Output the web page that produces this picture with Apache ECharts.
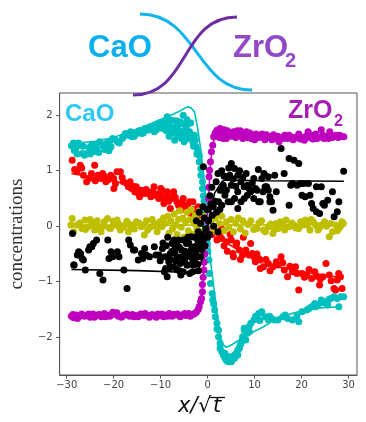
<!DOCTYPE html>
<html>
<head>
<meta charset="utf-8">
<script src="https://cdn.jsdelivr.net/npm/echarts@6/dist/echarts.min.js"></script>
<style>
  html, body { margin: 0; padding: 0; background: #fff; }
  #chart { width: 366px; height: 422px; }
</style>
</head>
<body>
<div id="chart"></div>
<script>
// Tick positions
const xTicks = [-30, -20, -10, 0, 10, 20, 30];
const yTicks = [-2, -1, 0, 1, 2];

// CaO measurements [x/sqrt(t), concentration]
const cyanPts = [
  [-28.55,1.50],[-28.08,1.40],[-27.05,1.46],[-25.69,1.31],[-24.66,1.47],[-24.32,1.34],[-23.64,1.40],
  [-22.95,1.52],[-21.59,1.49],[-20.56,1.43],[-20.22,1.58],[-19.2,1.52],[-18.17,1.58],[-17.49,1.67],
  [-16.8,1.64],[-16.12,1.61],[-15.1,1.67],[-14.07,1.67],[-13.39,1.76],[-12.71,1.73],[-12.02,1.79],
  [-11.34,1.70],[-10.66,1.82],[-9.97,1.79],[-9.29,1.85],[-8.61,1.97],[-7.93,1.79],[-7.58,1.91],
  [-7.24,1.76],[-6.9,1.67],[-6.56,1.82],[-6.22,1.73],[-5.88,1.88],[-5.54,1.58],[-5.19,2.00],
  [-4.85,1.67],[-4.51,1.79],[-4.17,1.58],[-3.83,1.70],[-3.14,1.52],[-2.8,1.64],[-2.46,1.43],
  [-2.12,1.37],[-1.78,1.28],[-1.78,1.16],[-1.44,1.04],[-1.44,0.92],[-1.09,0.80],[-1.09,0.68],
  [-27.8,1.30],[-26.2,1.28],[-25.0,1.30],[-23.2,1.33],[-21.0,1.36],[-28.4,1.37],[-26.7,1.31],
  [-8.2,1.62],[-7.0,1.55],[-6.0,1.62],[-5.0,1.52],[-3.6,1.86],[-4.4,1.92],[-8.8,1.72],
  [-29.0,1.45],[-27.5,1.50],[-26.5,1.44],[-25.2,1.42],[-23.9,1.46],[-22.3,1.45],[-21.9,1.38],
  [-20.9,1.52],[-19.7,1.56],[-18.8,1.50],[-17.8,1.62],[-16.4,1.70],[-15.6,1.62],[-14.6,1.72],
  [-13.7,1.68],[-12.4,1.76],[-11.7,1.80],[-10.9,1.74],[-10.2,1.86],[-9.6,1.76],[-8.9,1.90],
  [-8.4,1.80],[-7.7,1.70],[-6.7,1.90],[-6.4,1.74],[-5.7,1.70],[-5.3,1.84],[-4.7,1.74],[-4.0,1.86],
  [-3.4,1.62],[-3.0,1.44],[-2.6,1.55],[-2.3,1.30],
  [-0.9,0.55],[-0.75,0.45],[-0.6,0.30],[-0.5,0.15],[-0.4,0.0],[-0.3,-0.15],[-0.1,-0.30],
  [0.05,-0.45],[0.27,-0.61],[0.41,-0.85],[0.61,-1.03],[0.96,-1.21],[1.09,-1.33],[1.5,-1.51],
  [1.64,-1.63],[1.98,-1.75],[2.32,-1.87],[2.32,-1.99],[2.66,-2.11],[2.66,-2.20],[3.0,-2.26],
  [3.35,-2.32],[3.69,-2.38],[4.37,-2.44],[5.06,-2.42],[4.71,-2.35],[5.74,-2.38],[6.08,-2.29],
  [6.42,-2.32],[6.76,-2.20],[7.1,-2.11],[7.45,-1.99],[7.79,-1.87],[8.13,-2.05],[8.47,-1.93],
  [7.79,-1.84],[8.81,-1.81],[9.84,-1.69],[10.52,-1.66],[10.86,-1.57],[11.54,-1.54],[12.23,-1.63],
  [12.91,-1.69],[13.59,-1.66],[14.28,-1.69],[14.96,-1.69],[15.98,-1.63],[17.01,-1.66],[18.03,-1.69],
  [19.4,-1.72],[20.08,-1.54],[21.1,-1.51],[22.13,-1.45],[22.81,-1.39],[23.5,-1.42],[24.18,-1.33],
  [25.2,-1.36],[26.23,-1.30],[26.91,-1.27],[27.6,-1.30],[28.28,-1.27],[28.96,-1.27],[27.94,-1.45],
  [25.55,-1.42],[3.68,-2.29],[5.05,-2.44],[5.73,-2.32],[6.42,-2.23],[7.44,-2.05],
  [16.5,-1.60],[19.0,-1.62],[21.6,-1.48],[23.0,-1.45],[24.7,-1.38],[25.8,-1.32],[9.2,-1.75],
  [8.9,-1.90],[10.2,-1.62],[13.2,-1.62],[11.1,-1.70],[6.9,-2.15],[4.0,-2.42],[2.0,-1.85],[1.3,-1.40]
];
const cyanFit = [
  [-28.7,1.49],[-24,1.53],[-20,1.60],[-17.5,1.68],[-14,1.78],[-10.7,1.90],[-8,1.99],[-6,2.07],
  [-4.8,2.13],[-4.2,2.15],[-3.5,2.13],[-2.8,2.06],[-2.1,1.76],[-1.4,1.34],[-0.75,0.86],[-0.27,0.38],
  [0.27,-0.07],[0.6,-0.61],[1.3,-1.09],[2.0,-1.57],[2.7,-1.99],[3.3,-2.14],[4.0,-2.18],[5.05,-2.14],
  [8,-1.98],[11.9,-1.81],[15.3,-1.63],[22.1,-1.48],[28.3,-1.45]
];

// ZrO2 measurements
const magentaPts = [
  [-29.0,-1.62],[-28.5,-1.65],[-28.0,-1.60],[-27.4,-1.63],[-26.8,-1.58],[-26.2,-1.62],[-25.6,-1.60],
  [-25.0,-1.64],[-24.4,-1.58],[-23.8,-1.61],[-23.2,-1.59],[-22.6,-1.63],[-22.0,-1.57],[-21.4,-1.60],
  [-20.8,-1.62],[-20.2,-1.55],[-19.6,-1.59],[-19.0,-1.62],[-18.4,-1.64],[-17.8,-1.60],[-17.2,-1.58],
  [-16.6,-1.62],[-16.0,-1.59],[-15.4,-1.61],[-14.8,-1.63],[-14.2,-1.58],[-13.6,-1.61],[-13.0,-1.60],
  [-12.4,-1.64],[-11.8,-1.59],[-11.2,-1.62],[-10.6,-1.58],[-10.0,-1.61],[-9.4,-1.63],[-8.8,-1.60],
  [-8.2,-1.57],[-7.6,-1.62],[-7.0,-1.60],[-6.4,-1.58],[-5.8,-1.63],[-5.2,-1.59],[-4.6,-1.61],
  [-4.0,-1.57],[-3.4,-1.60],[-2.9,-1.58],[-2.4,-1.55],[-2.0,-1.50],[-1.8,-1.45],[-1.5,-1.36],
  [-28.7,-1.59],[-27.7,-1.66],[-26.5,-1.61],[-25.3,-1.58],[-24.1,-1.64],[-22.9,-1.60],[-21.7,-1.63],
  [-20.5,-1.59],[-19.3,-1.56],[-18.1,-1.62],[-16.9,-1.60],[-15.7,-1.63],[-14.5,-1.60],[-13.3,-1.57],
  [-12.1,-1.61],[-10.9,-1.64],[-9.7,-1.58],[-8.5,-1.62],[-7.3,-1.59],[-6.1,-1.61],[-4.9,-1.57],
  [-3.7,-1.62],[-2.6,-1.56],
  [-1.3,-1.30],[-1.1,-1.18],[-1.1,-1.05],[-0.95,-0.92],[-0.8,-0.79],[-0.75,-0.65],[-0.6,-0.50],
  [-0.5,-0.35],[-0.35,-0.20],[-0.2,-0.05],[0.0,0.10],[0.1,0.30],[0.2,0.50],[0.27,0.70],[0.3,0.89],
  [0.41,1.01],[0.61,1.16],[0.82,1.34],[1.09,1.46],[1.3,1.61],[1.98,1.73],[2.66,1.76],[3.68,1.64],
  [2.0,1.72],[2.5,1.60],[3.0,1.66],[3.5,1.74],[4.0,1.58],[4.5,1.68],[5.0,1.62],[5.5,1.70],[6.0,1.60],
  [6.5,1.66],[7.0,1.72],[7.5,1.58],[8.0,1.65],[8.5,1.60],[9.0,1.68],[9.5,1.62],[10.0,1.56],[10.5,1.64],
  [11.0,1.60],[11.6,1.66],[12.2,1.56],[12.8,1.62],[13.4,1.60],[14.0,1.65],[14.6,1.58],[15.2,1.52],
  [15.8,1.60],[16.4,1.64],[17.0,1.58],[17.6,1.62],[18.2,1.56],[18.8,1.60],[19.4,1.66],[20.0,1.60],
  [20.6,1.55],[21.2,1.63],[21.4,1.70],[21.8,1.60],[22.4,1.57],[23.0,1.66],[23.6,1.60],[24.2,1.74],
  [24.8,1.58],[25.4,1.62],[26.0,1.70],[26.6,1.60],[27.2,1.64],[27.8,1.60],[28.4,1.62],[29.0,1.61],
  [1.6,1.68],[2.3,1.64],[3.3,1.58],[4.2,1.72],[5.2,1.66],[6.3,1.72],[7.3,1.62],[8.3,1.70],[9.3,1.58],
  [10.3,1.66],[11.3,1.62],[12.5,1.65],[13.7,1.56],[14.9,1.62],[16.1,1.58],[17.3,1.64],[18.5,1.60],
  [19.7,1.57],[20.9,1.62],[22.1,1.64],[23.3,1.58],[24.5,1.64],[25.7,1.58],[26.9,1.62],[28.1,1.64]
];
const magentaFit = [
  [-29,-1.61],[-3,-1.59],[-2,-1.52],[-1.4,-1.35],[-1.0,-1.0],[-0.6,-0.5],[-0.2,0],[0.2,0.5],
  [0.6,1.1],[1.0,1.45],[1.6,1.62],[3,1.65],[29,1.61]
];

// Red component
const redPts = [
  [-28.83,1.19],[-27.12,1.10],[-27.8,0.98],[-26.44,0.92],[-25.76,0.80],[-24.73,0.95],[-24.05,1.10],
  [-23.36,0.92],[-22.68,0.86],[-22.34,0.95],[-21.66,0.80],[-20.63,0.92],[-19.95,0.68],[-19.61,0.77],
  [-19.27,0.98],[-18.58,0.98],[-17.9,0.80],[-17.22,0.77],[-16.87,0.71],[-16.19,0.68],[-15.51,0.62],
  [-15.17,0.71],[-14.48,0.53],[-14.14,0.65],[-13.46,0.59],[-12.77,0.62],[-12.09,0.53],[-11.41,0.71],
  [-11.07,0.56],[-10.39,0.50],[-9.7,0.65],[-9.36,0.50],[-9.98,0.68],[-8.61,0.62],[-7.24,0.56],
  [-6.56,0.44],[-5.2,0.50],[-4.51,0.38],[-3.83,0.44],[-7.93,0.32],[-5.88,0.29],[-3.15,0.26],
  [-9.3,0.41],[-8.61,0.56],[-5.19,0.32],[-2.46,0.26],[-3.14,0.44],[-7.24,0.62],
  [-28.3,1.02],[-26.8,1.05],[-25.2,0.86],[-23.9,0.82],[-22.0,0.90],[-21.0,0.84],[-20.0,0.86],
  [-18.2,0.88],[-16.5,0.80],[-15.8,0.72],[-14.8,0.60],[-13.1,0.66],[-12.4,0.58],[-11.7,0.62],
  [-10.7,0.58],[-10.0,0.55],[-8.9,0.48],[-8.3,0.45],[-7.6,0.50],[-6.9,0.52],[-6.2,0.38],[-5.5,0.42],
  [-4.8,0.30],[-4.2,0.35],[-3.5,0.22],
  [-3.0,0.30],[-2.5,0.22],[-2.0,0.35],[-1.5,0.12],[-1.0,0.20],[-0.5,0.05],[0.5,-0.05],[1.0,-0.15],
  [1.5,-0.10],[2.0,-0.25],[2.5,-0.15],[3.0,-0.05],[3.5,-0.35],[4.2,-0.45],[4.8,-0.15],[5.5,-0.55],
  [6.2,-0.30],[7.0,-0.60],[7.6,-0.20],
  [3.0,-0.22],[4.03,-0.28],[5.05,-0.25],[6.07,-0.34],[5.39,-0.49],[6.76,-0.43],[7.44,-0.52],
  [8.12,-0.43],[9.15,-0.31],[9.49,-0.49],[10.17,-0.64],[10.86,-0.58],[11.2,-0.76],
  [9.84,-0.55],[11.2,-0.61],[11.89,-0.73],[12.91,-0.67],[13.93,-0.73],[14.62,-0.64],[15.64,-0.55],
  [16.33,-0.79],[17.01,-0.91],[18.03,-0.82],[18.72,-0.73],[19.4,-1.15],[20.08,-0.85],[21.1,-0.88],
  [22.13,-0.94],[22.81,-0.82],[23.84,-1.06],[24.52,-0.91],[25.2,-0.67],[25.89,-0.88],[26.91,-1.12],
  [27.6,-0.97],[28.28,-0.91],[28.62,-1.12],[27.25,-1.15],
  [8.8,-0.52],[10.5,-0.50],[12.4,-0.60],[13.3,-0.80],[15.0,-0.70],[16.0,-0.66],[17.5,-0.72],
  [19.0,-0.85],[20.6,-0.92],[21.6,-0.78],[23.2,-0.90],[24.0,-0.95],[26.3,-0.98],[27.9,-0.85]
];
const redFit = [
  [-29,0.95],[-24,0.88],[-20,0.82],[-15,0.70],[-11,0.58],[-7,0.45],[-4,0.30],[-2,0.15],[0,0],
  [2,-0.15],[4,-0.30],[7,-0.45],[11,-0.60],[15.3,-0.74],[20,-0.82],[24,-0.87],[28,-0.92]
];

// Olive component
const olivePts = [
  [-28.83,0.14],[-27.8,0.02],[-28.49,-0.10],[-26.1,0.11],[-25.41,-0.01],[-24.73,0.08],[-24.05,-0.07],
  [-23.02,-0.01],[-21.99,0.08],[-21.31,0.14],[-20.63,-0.04],[-19.95,0.02],[-19.27,0.11],[-18.58,-0.07],
  [-17.56,0.02],[-16.87,-0.10],[-16.19,-0.01],[-15.17,0.08],[-14.14,-0.01],[-13.46,-0.16],[-12.77,-0.07],
  [-11.41,0.05],[-10.73,-0.10],[-9.7,-0.01],[-18.9,-0.01],[-22.68,-0.10],[-26.78,-0.04],
  [-29.1,0.02],[-27.2,0.06],[-26.0,-0.06],[-25.0,0.12],[-24.4,0.02],[-23.5,0.10],[-22.3,0.0],
  [-21.0,-0.03],[-20.1,0.09],[-19.0,0.05],[-18.0,-0.02],[-17.2,0.09],[-16.5,0.03],[-15.6,-0.05],
  [-14.6,0.06],[-13.8,0.02],[-13.0,0.10],[-12.2,-0.02],[-11.8,0.12],[-11.0,0.0],[-10.2,0.08],[-9.4,0.15],
  [-9.0,0.05],[-8.5,0.18],[-8.2,-0.12],[-7.8,0.10],[-7.5,-0.05],[-7.1,0.22],[-6.8,0.02],[-6.5,-0.15],
  [-6.2,0.12],[-5.9,0.28],[-5.6,-0.02],[-5.3,0.15],[-5.0,-0.20],[-4.7,0.08],[-4.4,0.25],[-4.1,-0.08],
  [-3.8,0.12],[-3.5,0.30],[-3.2,-0.15],[-2.9,0.05],[-2.6,0.20],[-2.3,-0.05],[-2.0,0.10],[-1.7,0.28],
  [-1.4,-0.10],[-1.1,0.08],[-0.8,0.20],[-0.5,-0.02],[-0.2,0.12],[0.2,0.0],[0.5,-0.12],[0.8,0.10],
  [1.2,-0.05],[1.6,0.15],[2.0,-0.10],[2.5,0.05],[3.0,0.18],[3.5,-0.08],[4.0,0.08],[4.5,-0.02],
  [5.0,0.12],[5.5,-0.10],[6.0,0.05],[6.5,0.15],[7.0,-0.05],[7.5,0.10],[8.0,-0.12],[8.6,0.03],
  [9.2,0.10],[9.8,-0.06],
  [10.5,-0.04],[11.9,-0.07],[12.9,-0.01],[13.9,-0.13],[14.6,0.05],[15.0,-0.04],[16.0,0.02],[16.7,0.11],
  [17.4,-0.01],[18.4,0.02],[19.4,-0.04],[20.4,0.02],[20.8,0.11],[21.8,-0.07],[22.5,0.08],[23.5,-0.07],
  [24.2,0.02],[24.9,0.08],[25.9,-0.19],[26.6,-0.10],[27.3,0.02],[27.9,-0.04],[28.6,0.08],
  [10.9,0.06],[11.5,0.10],[12.3,-0.10],[13.4,0.04],[14.2,-0.06],[15.5,0.08],[16.4,-0.07],[17.9,0.06],
  [18.8,-0.03],[19.8,0.08],[21.2,0.02],[22.0,0.12],[23.0,0.02],[23.9,-0.02],[25.3,0.0],[26.2,0.05],
  [27.6,-0.08],[28.3,0.0],[28.9,0.05]
];
const oliveFit = [[-29,0.02],[0,0.02],[29,0.03]];

// Black component
const blackPts = [
  [-28.76,-0.13],[-28.42,-0.70],[-27.73,-0.52],[-27.05,-0.49],[-26.71,-0.58],[-26.03,-0.79],[-25.34,-0.43],
  [-24.66,-0.37],[-24.32,-0.31],[-23.64,-0.25],[-22.95,-0.85],[-22.27,-0.97],[-21.25,-0.25],[-20.56,-0.46],
  [-20.22,-0.55],[-19.2,-0.46],[-18.86,-0.55],[-17.83,-0.79],[-17.15,-1.12],[-16.8,-0.25],[-16.46,-0.34],
  [-15.78,-0.43],[-14.76,-0.61],[-14.07,-0.49],[-13.39,-0.40],[-13.05,-0.52],[-12.37,-0.55],[-11.34,-0.37],
  [-11.0,-0.52],[-10.32,-0.52],[-9.63,-0.40],[-8.95,-0.76],[-8.61,-0.91],[-8.27,-0.64],[-7.93,-0.49],
  [-7.58,-0.31],[-7.24,-0.73],[-6.9,-0.40],[-6.56,-0.55],[-6.22,-0.25],[-5.88,-0.67],[-5.54,-0.43],
  [-5.19,-0.82],[-4.85,-0.58],[-4.51,-0.31],[-4.17,-0.70],[-3.83,-0.46],[-3.49,-0.19],[-3.14,-0.61],
  [-2.8,-0.37],[-2.46,-0.52],[-2.12,-0.25],
  [-27.46,-0.46],[-26.44,-0.61],[-25.07,-0.37],[-28.5,-0.70],[-21.0,-0.58],[-15.5,-0.43],[-13.8,-0.58],
  [-9.5,-0.30],[-9.0,-0.55],[-8.5,-0.20],[-8.0,-0.75],[-7.6,-0.45],[-7.2,-0.25],[-6.8,-0.62],[-6.4,-0.35],
  [-6.0,-0.80],[-5.6,-0.55],[-5.2,-0.25],[-4.8,-0.45],[-4.4,-0.70],[-4.0,-0.30],[-3.6,-0.55],[-3.2,-0.82],
  [-2.8,-0.20],[-2.5,-0.45],[-2.2,-0.68],[-1.8,-0.35],[-1.5,-0.55],
  [-10.1,-0.62],[-9.2,-0.82],[-8.8,-0.35],[-7.9,-0.60],[-7.0,-0.48],[-6.6,-0.78],[-6.0,-0.38],
  [-5.7,-0.88],[-5.0,-0.65],[-4.6,-0.50],[-4.2,-0.20],[-3.8,-0.85],[-3.4,-0.40],[-3.0,-0.70],
  [-2.7,-0.58],[-2.3,-0.35],[-2.0,-0.80],[-1.6,-0.15],[-1.3,-0.42],[-1.0,-0.25],[-0.6,-0.35],
  [-2.4,0.10],[-2.0,-0.10],[-1.8,0.25],[-1.5,0.05],[-1.2,-0.15],[-1.0,0.35],[-0.7,0.15],[-0.4,-0.05],
  [-0.1,0.30],[0.2,0.10],[0.4,-0.15],[0.7,0.40],[1.0,0.20],[1.3,0.0],[1.6,0.45],[1.9,0.25],[2.2,-0.10],
  [-0.9,1.07],
  [0.0,-0.20],[0.5,0.55],[0.9,0.70],[1.2,0.35],[1.8,0.80],[2.2,0.95],[2.6,0.30],[3.0,1.00],[3.5,0.90],
  [4.0,0.65],[4.5,1.05],[5.4,0.85],[6.0,0.72],[6.8,1.00],[7.5,0.88],[8.2,0.95],[8.8,0.68],[9.5,0.78],
  [10.8,1.02],[11.8,0.62],[12.0,0.95],
  [5.05,1.13],[5.73,1.04],[4.71,0.92],[6.42,0.92],[4.03,0.89],[7.1,0.80],[3.34,0.74],[5.05,0.74],
  [7.78,0.71],[2.66,0.65],[6.42,0.62],[9.15,0.62],[3.68,0.56],[5.73,0.50],[8.46,0.56],[9.83,0.50],
  [2.32,0.44],[4.37,0.44],[7.1,0.44],[11.2,0.44],[3.0,0.38],[7.79,0.50],[6.42,0.32],[5.06,0.44],
  [15.64,1.40],[17.35,1.22],[19.4,1.13],[18.4,1.19],[9.84,0.86],[11.54,0.86],[12.9,0.89],[14.28,0.92],
  [16.3,0.95],[17.7,0.74],[19.74,0.77],[21.45,0.77],[24.2,0.71],[28.96,0.99],[12.57,0.71],[8.47,0.74],
  [10.52,0.65],[13.25,0.53],[14.62,0.62],[13.6,0.44],[13.93,0.29],[17.35,0.38],[20.08,0.56],[22.13,0.41],
  [23.84,0.23],[24.86,0.38],[25.55,0.47],[26.57,0.62],[23.16,0.26],[27.6,0.26],
  [10.18,0.68],[12.23,0.71],[12.91,0.65],[18.04,0.77],[19.06,0.74],[20.43,0.77],[23.16,0.71],
  [10.86,0.44],[13.26,0.44],[20.77,0.53],[21.79,0.56],[22.48,0.32],[24.53,0.41],[27.94,0.44],[26.92,0.17]
];
const blackFit = [
  [-29,-0.78],[-15,-0.80],[-5,-0.83],[-2.5,-0.84],[-1.5,-0.70],[0,0],[1.5,0.60],[3,0.80],[3.7,0.83],
  [12,0.82],[29,0.81]
];

const C_CYAN = '#00bfbf', C_MAG = '#bf00bf', C_RED = '#ff0000', C_OLIVE = '#bfbf00', C_BLACK = '#000000';
const DOT = 7;

function dots(name, data, color, z) {
  return { name, type: 'scatter', data, symbolSize: DOT, z,
    itemStyle: { color, opacity: 1 }, silent: true, animation: false };
}
function fit(name, data, color, z) {
  return { name, type: 'line', data, showSymbol: false, symbol: 'none', z,
    lineStyle: { color, width: 1.6 }, silent: true, animation: false };
}
const minus = v => String(v).replace('-', '\u2212');

const chart = echarts.init(document.getElementById('chart'), null, { renderer: 'canvas' });
chart.setOption({
  animation: false,
  backgroundColor: '#ffffff',
  grid: { left: 48, right: 9, top: 93, bottom: 47, show: true, borderColor: '#555', borderWidth: 1 },
  xAxis: {
    type: 'value', min: -31.5, max: 31.8,
    splitLine: { show: false },
    axisLine: { show: true, onZero: false, lineStyle: { color: '#555', width: 1 } },
    axisTick: { show: true, length: 3.5, customValues: xTicks, lineStyle: { color: '#555' } },
    axisLabel: { customValues: xTicks, formatter: minus, fontFamily: 'DejaVu Sans', fontSize: 10, color: '#444', margin: 5 }
  },
  yAxis: {
    type: 'value', min: -2.68, max: 2.40,
    name: 'concentrations', nameLocation: 'middle', nameGap: 29,
    nameTextStyle: { fontFamily: 'Liberation Serif', fontSize: 19, color: '#333' },
    splitLine: { show: false },
    axisLine: { show: true, onZero: false, lineStyle: { color: '#555', width: 1 } },
    axisTick: { show: true, length: 3.5, customValues: yTicks, lineStyle: { color: '#555' } },
    axisLabel: { customValues: yTicks, formatter: minus, fontFamily: 'DejaVu Sans', fontSize: 10, color: '#444', margin: 7 }
  },
  series: [
    dots('red', redPts, C_RED, 2), fit('redFit', redFit, C_RED, 3),
    dots('olive', olivePts, C_OLIVE, 4), fit('oliveFit', oliveFit, C_OLIVE, 5),
    dots('cyan', cyanPts, C_CYAN, 6), fit('cyanFit', cyanFit, C_CYAN, 7),
    dots('magenta', magentaPts, C_MAG, 8), fit('magentaFit', magentaFit, C_MAG, 9),
    dots('black', blackPts, C_BLACK, 10), fit('blackFit', blackFit, C_BLACK, 11)
  ],
  graphic: [
    // crossing diffusion profiles above the plot
    { type: 'bezierCurve', z: 20, shape: { x1: 140, y1: 14, cpx1: 198, cpy1: 14, cpx2: 196, cpy2: 91, x2: 252, y2: 90 },
      style: { stroke: '#12b4ec', lineWidth: 3, fill: null } },
    { type: 'bezierCurve', z: 21, shape: { x1: 237, y1: 17, cpx1: 180, cpy1: 17, cpx2: 190, cpy2: 95, x2: 133, y2: 95 },
      style: { stroke: '#6d2ea3', lineWidth: 3, fill: null } },
    { type: 'text', z: 22, x: 88, y: 48, style: { text: 'CaO', font: 'bold 31px "Liberation Sans"', fill: '#06b0ee', textVerticalAlign: 'middle' } },
    { type: 'text', z: 22, x: 233, y: 48, style: { text: 'ZrO', font: 'bold 31px "Liberation Sans"', fill: '#9348c9', textVerticalAlign: 'middle' } },
    { type: 'text', z: 22, x: 285, y: 61, style: { text: '2', font: 'bold 20px "Liberation Sans"', fill: '#9348c9', textVerticalAlign: 'middle' } },
    // component labels inside the axes
    { type: 'text', z: 22, x: 65, y: 114, style: { text: 'CaO', font: 'bold 24px "Liberation Sans"', fill: '#2ec8f7', textVerticalAlign: 'middle' } },
    { type: 'text', z: 22, x: 288, y: 111, style: { text: 'ZrO', font: 'bold 25px "Liberation Sans"', fill: '#a61fb3', textVerticalAlign: 'middle' } },
    { type: 'text', z: 22, x: 334, y: 122, style: { text: '2', font: 'bold 16px "Liberation Sans"', fill: '#a61fb3', textVerticalAlign: 'middle' } },
    // x-axis title: x/√t
    { type: 'text', z: 22, x: 178, y: 407, style: { text: 'x/', font: 'italic 21px "DejaVu Sans"', fill: '#111', textVerticalAlign: 'middle' } },
    { type: 'text', z: 22, x: 198, y: 407, style: { text: '\u221A', font: '21px "DejaVu Sans"', fill: '#111', textVerticalAlign: 'middle' } },
    { type: 'text', z: 22, x: 213, y: 407, style: { text: 't', font: 'italic 21px "DejaVu Sans"', fill: '#111', textVerticalAlign: 'middle' } },
    { type: 'line', z: 22, shape: { x1: 209, y1: 397.5, x2: 225, y2: 397.5 }, style: { stroke: '#111', lineWidth: 1.3 } }
  ]
});
</script>
</body>
</html>
